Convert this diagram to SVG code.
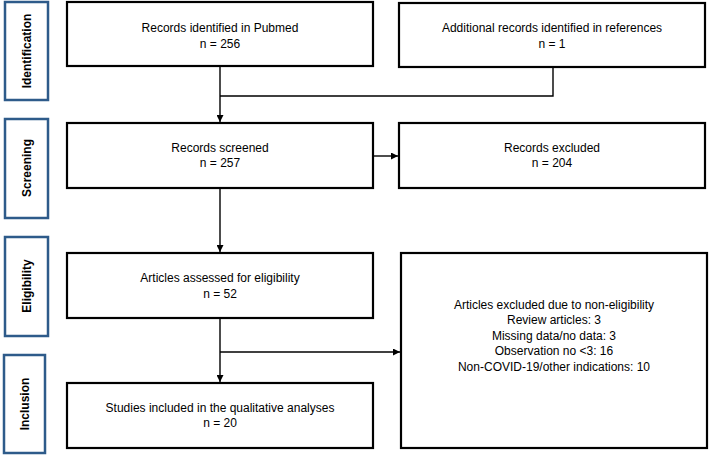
<svg xmlns="http://www.w3.org/2000/svg" width="709" height="455" viewBox="0 0 709 455">
<style>
.box{fill:#fff;stroke:#000;stroke-width:2.2}
.side{fill:#fff;stroke:#2e5b8a;stroke-width:2.5}
.t{font-family:"Liberation Sans",Arial,sans-serif;font-size:12px;fill:#000;text-anchor:middle}
.s{font-family:"Liberation Sans",Arial,sans-serif;font-size:12px;font-weight:bold;fill:#000;text-anchor:middle}
.c{fill:none;stroke:#000;stroke-width:1.4}
</style>
<defs>
<marker id="ah" viewBox="0 0 10 10" refX="10" refY="5" markerWidth="7" markerHeight="7" markerUnits="userSpaceOnUse" orient="auto">
<path d="M0,0 L10,5 L0,10 z" fill="#000"/>
</marker>
</defs>
<g id="side-identification"><rect class="side" x="5" y="2" width="43" height="98"/><text class="s" transform="translate(31,51) rotate(-90)">Identification</text></g>
<g id="side-screening"><rect class="side" x="5" y="119" width="43" height="99"/><text class="s" transform="translate(31,168) rotate(-90)">Screening</text></g>
<g id="side-eligibility"><rect class="side" x="5" y="237" width="43" height="99"/><text class="s" transform="translate(31,286) rotate(-90)">Eligibility</text></g>
<g id="side-inclusion"><rect class="side" x="4" y="355" width="41" height="98"/><text class="s" transform="translate(29,404) rotate(-90)">Inclusion</text></g>
<g id="identified"><rect class="box" x="67" y="2" width="306" height="64"/><text class="t" x="220" y="32">Records identified in Pubmed</text><text class="t" x="220" y="48">n = 256</text></g>
<g id="additional"><rect class="box" x="399" y="3" width="306" height="64"/><text class="t" x="552" y="32">Additional records identified in references</text><text class="t" x="552" y="48">n = 1</text></g>
<g id="screened"><rect class="box" x="67" y="123" width="306" height="65"/><text class="t" x="220" y="152">Records screened</text><text class="t" x="220" y="167">n = 257</text></g>
<g id="excluded"><rect class="box" x="399" y="123" width="306" height="65"/><text class="t" x="552" y="152">Records excluded</text><text class="t" x="552" y="167">n = 204</text></g>
<g id="assessed"><rect class="box" x="67" y="253" width="306" height="65"/><text class="t" x="220" y="282">Articles assessed for eligibility</text><text class="t" x="220" y="298">n = 52</text></g>
<g id="included"><rect class="box" x="67" y="383" width="306" height="65"/><text class="t" x="220" y="412">Studies included in the qualitative analyses</text><text class="t" x="220" y="427">n = 20</text></g>
<g id="noneligible"><rect class="box" x="401" y="253" width="306" height="195"/>
<text class="t" x="554" y="309">Articles excluded due to non-eligibility</text>
<text class="t" x="554" y="324">Review articles: 3</text>
<text class="t" x="554" y="340">Missing data/no data: 3</text>
<text class="t" x="554" y="355">Observation no &lt;3: 16</text>
<text class="t" x="554" y="371">Non-COVID-19/other indications: 10</text></g>
<g id="connectors">
<path class="c" d="M220,66 V122" marker-end="url(#ah)"/>
<path class="c" d="M553,67 V96 H220"/>
<path class="c" d="M373,156 H398" marker-end="url(#ah)"/>
<path class="c" d="M220,188 V252" marker-end="url(#ah)"/>
<path class="c" d="M220,318 V382" marker-end="url(#ah)"/>
<path class="c" d="M220,352 H400" marker-end="url(#ah)"/>
</g>
</svg>
